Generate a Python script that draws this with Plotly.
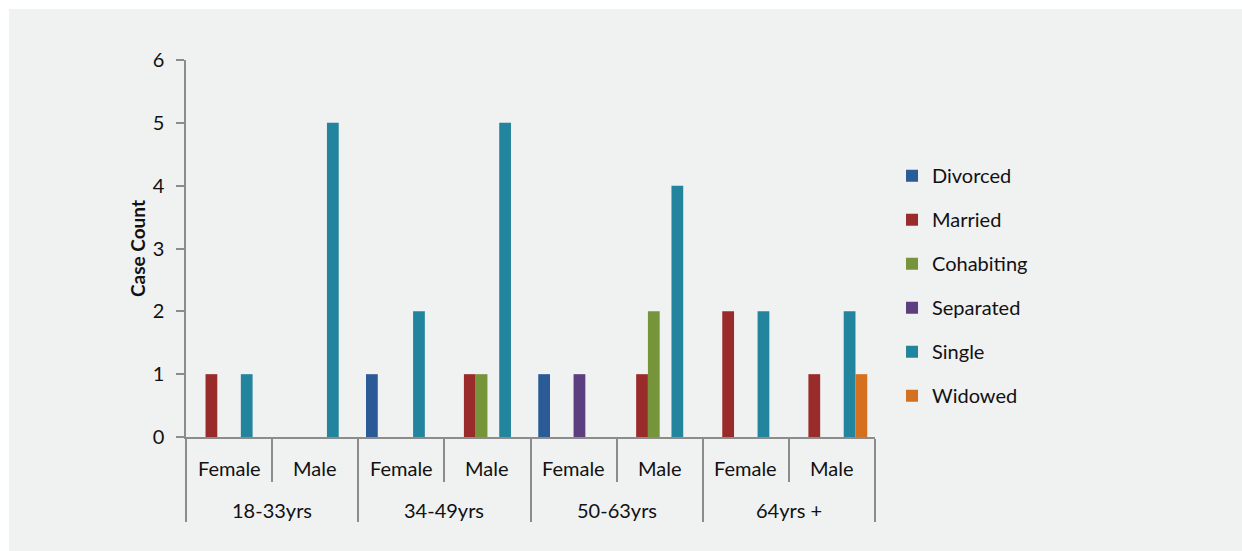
import plotly.graph_objects as go

# Age bands and sex for each of the eight groups on the x axis
age_groups = ["18-33yrs", "18-33yrs", "34-49yrs", "34-49yrs",
              "50-63yrs", "50-63yrs", "64yrs +", "64yrs +"]
sexes = ["Female", "Male", "Female", "Male", "Female", "Male", "Female", "Male"]

# Case counts per marital status
divorced = [0, 0, 1, 0, 1, 0, 0, 0]
married = [1, 0, 0, 1, 0, 1, 2, 1]
cohabiting = [0, 0, 0, 1, 0, 2, 0, 0]
separated = [0, 0, 0, 0, 1, 0, 0, 0]
single = [1, 5, 2, 5, 0, 4, 2, 2]
widowed = [0, 0, 0, 0, 0, 0, 0, 1]

series = [
    ("Divorced", divorced, "#2b5b97"),
    ("Married", married, "#9a2b2b"),
    ("Cohabiting", cohabiting, "#76943a"),
    ("Separated", separated, "#5c3f7e"),
    ("Single", single, "#23859d"),
    ("Widowed", widowed, "#d5701f"),
]

FONT = "Lato, Open Sans, sans-serif"
AXIS_GREY = "#8c8c8c"
TEXT = "#111111"

# one slot per (age band, sex) group
positions = list(range(len(sexes)))

# age bands in order of appearance with the slots they cover
bands = []
for i, age in enumerate(age_groups):
    if not bands or bands[-1][0] != age:
        bands.append([age, i, i])
    else:
        bands[-1][2] = i

fig = go.Figure()
for name, values, color in series:
    fig.add_trace(go.Bar(
        name=name,
        x=positions,
        y=values,
        marker=dict(color=color, line=dict(width=0)),
        legendgroup=name,
    ))

# sex labels under each group
for pos, sex in zip(positions, sexes):
    fig.add_annotation(x=pos, y=-0.082, xref="x", yref="paper",
                       text=sex, showarrow=False,
                       font=dict(family=FONT, size=20, color=TEXT),
                       xanchor="center", yanchor="middle")

# age band labels on the second row
for age, first, last in bands:
    fig.add_annotation(x=(first + last) / 2, y=-0.194, xref="x", yref="paper",
                       text=age, showarrow=False,
                       font=dict(family=FONT, size=20, color=TEXT),
                       xanchor="center", yanchor="middle")

# long dividers between age bands, short ones between sexes
band_edges = [b[1] - 0.5 for b in bands] + [bands[-1][2] + 0.5]
sex_edges = [p + 0.5 for p in positions[:-1]]

# light grey card behind the chart
fig.add_shape(type="rect", xref="paper", yref="paper",
              x0=-0.257, x1=1.7, y0=-0.5, y1=1.1353,
              fillcolor="#f0f1f1", line=dict(width=0), layer="below")

fig.update_layout(
    width=1242, height=551,
    margin=dict(l=186, r=367, t=60, b=114),
    paper_bgcolor="white",
    plot_bgcolor="rgba(0,0,0,0)",
    barmode="group",
    bargap=0.18,
    bargroupgap=0,
    font=dict(family=FONT, size=20, color=TEXT),
    showlegend=True,
    legend=dict(
        x=1.0247, y=0.745, xanchor="left", yanchor="top",
        font=dict(family=FONT, size=20, color=TEXT),
        tracegroupgap=15,
        itemwidth=30,
        bgcolor="rgba(0,0,0,0)",
    ),
    xaxis=dict(
        range=[positions[0] - 0.5, positions[-1] + 0.5],
        showline=True, linecolor=AXIS_GREY, linewidth=1.5,
        tickmode="array", tickvals=band_edges, showticklabels=False,
        ticks="outside", ticklen=83, tickcolor=AXIS_GREY, tickwidth=1.5,
        minor=dict(tickmode="array", tickvals=sex_edges, ticks="outside",
                   ticklen=43, tickcolor=AXIS_GREY, tickwidth=1.5,
                   showgrid=False),
        showgrid=False, zeroline=False,
    ),
    yaxis=dict(
        range=[0, 6], dtick=1,
        showline=True, linecolor=AXIS_GREY, linewidth=1.5,
        ticks="outside", ticklen=8, tickcolor=AXIS_GREY, tickwidth=1.5,
        ticklabelstandoff=8,
        showgrid=False, zeroline=False,
        tickfont=dict(family=FONT, size=20, color=TEXT),
        title=dict(text="<b>Case Count</b>", standoff=2,
                   font=dict(family=FONT, size=19, color=TEXT)),
    ),
)

fig.write_html("out.html")
